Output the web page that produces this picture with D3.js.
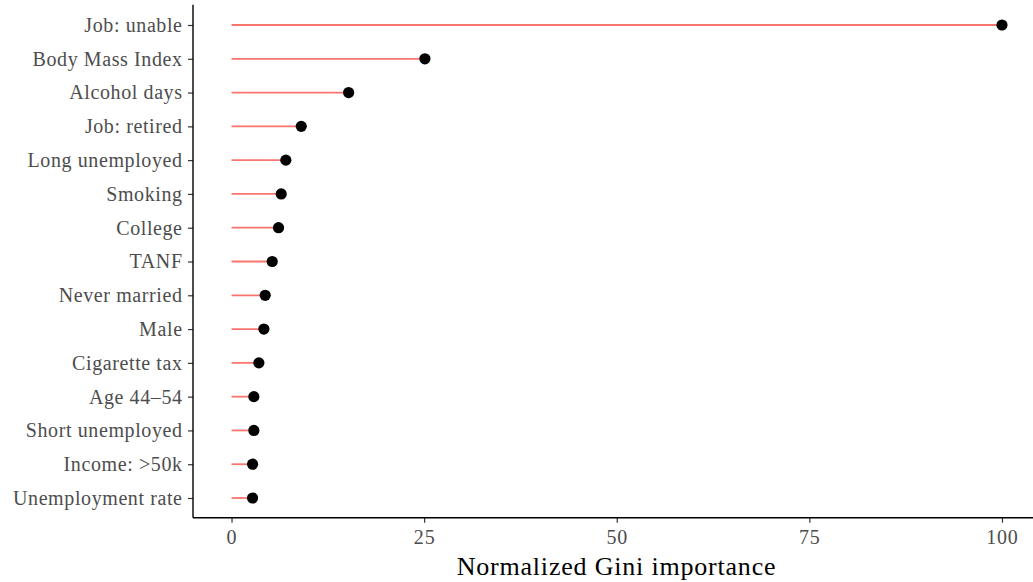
<!DOCTYPE html>
<html><head><meta charset="utf-8">
<script src="https://cdn.jsdelivr.net/npm/d3@7"></script>
<style>body{margin:0;background:#fff}svg{display:block}</style>
</head><body>
<script>
const categories = ["Job: unable","Body Mass Index","Alcohol days","Job: retired","Long unemployed","Smoking","College","TANF","Never married","Male","Cigarette tax","Age 44\u201354","Short unemployed","Income: >50k","Unemployment rate"];
const values = [100,25.1,15.2,9.05,7.05,6.45,6.1,5.28,4.37,4.2,3.55,2.9,2.9,2.73,2.73];
const xTicks = [0,25,50,75,100];

(function(){
const W=1033,H=582;
const svg=d3.select("body").append("svg").attr("width",W).attr("height",H);
const fontF="'Liberation Serif','Times New Roman',serif";
const x=d3.scaleLinear().domain([-5,105]).range([193,1040.5]);
const y=d3.scalePoint().domain(categories).range([25,498]);
const pTop=4.7,pBottom=517.7;

svg.append("g").selectAll("line").data(categories).join("line")
  .attr("x1",x(0)).attr("x2",(d,i)=>x(values[i]))
  .attr("y1",d=>y(d)).attr("y2",d=>y(d))
  .attr("stroke","#F8766D").attr("stroke-width",1.8);
svg.append("g").selectAll("circle").data(categories).join("circle")
  .attr("cx",(d,i)=>x(values[i])).attr("cy",d=>y(d)).attr("r",5.6).attr("fill","#000");

const xa=svg.append("g").attr("transform",`translate(0,${pBottom})`)
  .call(d3.axisBottom(x).tickValues(xTicks).tickSize(5).tickPadding(4).tickFormat(d3.format("d")));
const ya=svg.append("g").attr("transform",`translate(193,0)`)
  .call(d3.axisLeft(y).tickSize(5).tickPadding(5.4));
[xa,ya].forEach(a=>{
  a.select(".domain").remove();
  a.selectAll(".tick line").attr("stroke","#333").attr("stroke-width",1.2);
  a.selectAll("text").attr("fill","#4D4D4D").style("font-family",fontF).style("font-size","20px").style("letter-spacing","0.6px");
});
xa.selectAll("text").attr("dy","0.85em").style("letter-spacing","0.8px");
svg.append("line").attr("x1",193).attr("x2",1040).attr("y1",pBottom).attr("y2",pBottom).attr("stroke","#000").attr("stroke-width",1.4);
svg.append("line").attr("x1",193).attr("x2",193).attr("y1",pTop).attr("y2",pBottom).attr("stroke","#000").attr("stroke-width",1.4);

svg.append("text").attr("x",(457+776)/2).attr("y",575).attr("text-anchor","middle")
  .style("font-family",fontF).style("font-size","26px").style("letter-spacing","0.8px").attr("fill","#000").text("Normalized Gini importance");
})();
</script>
</body></html>
